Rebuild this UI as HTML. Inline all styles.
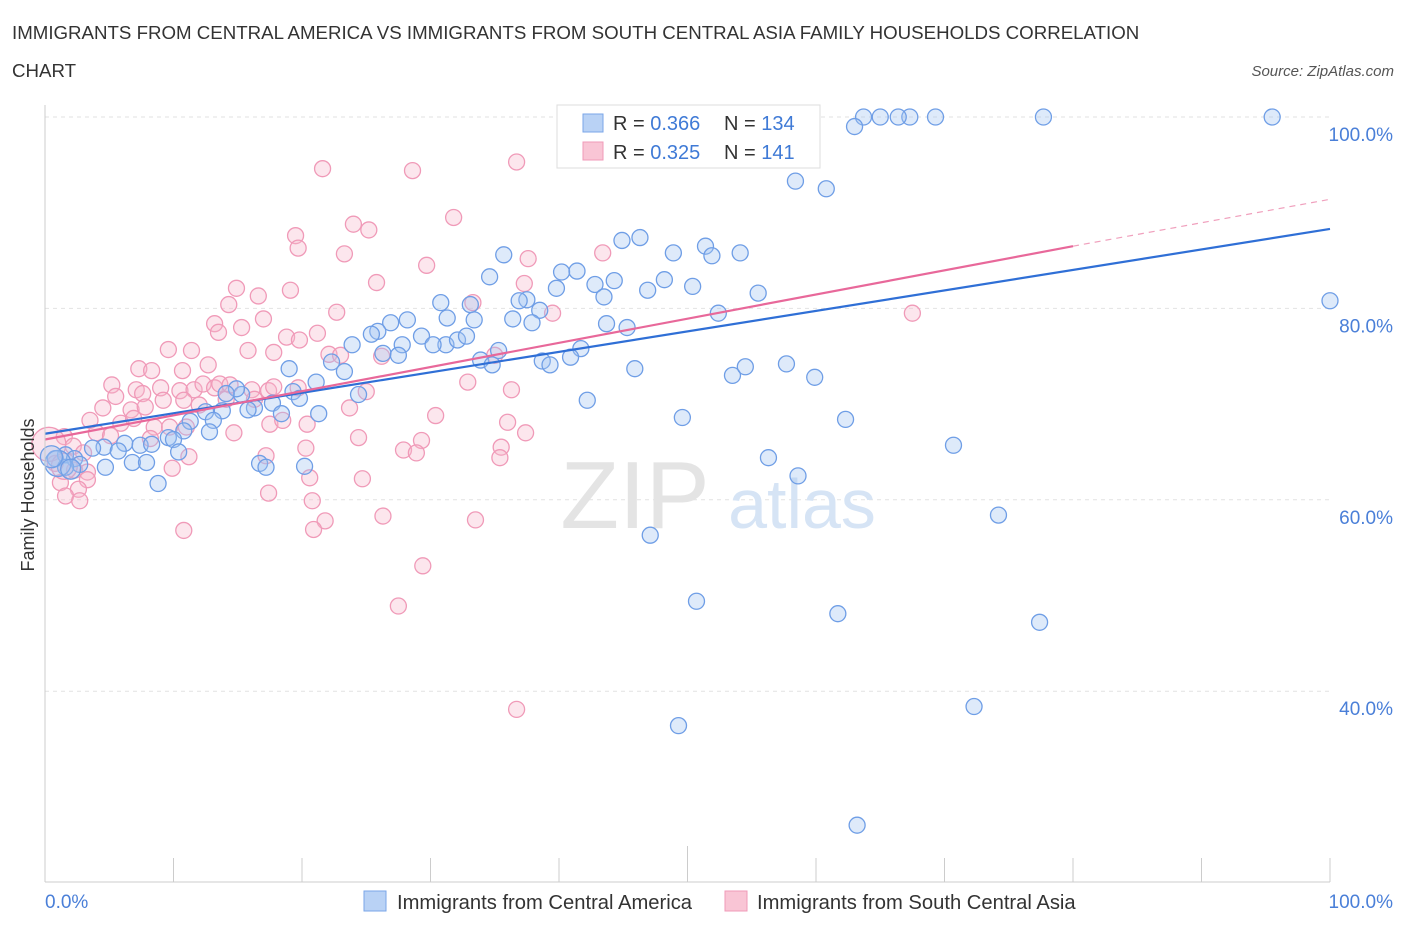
<!DOCTYPE html>
<html><head><meta charset="utf-8">
<style>
body{margin:0;background:#fff;font-family:"Liberation Sans",sans-serif;}
svg text{font-family:"Liberation Sans",sans-serif;}
</style></head>
<body>
<svg id="chart" width="1406" height="930" viewBox="0 0 1406 930" xmlns="http://www.w3.org/2000/svg">
<text x="12" y="39" font-size="18.7" fill="#333">IMMIGRANTS FROM CENTRAL AMERICA VS IMMIGRANTS FROM SOUTH CENTRAL ASIA FAMILY HOUSEHOLDS CORRELATION</text>
<text x="12" y="77" font-size="18.7" fill="#333">CHART</text>
<text x="1394" y="76" font-size="15" fill="#555" font-style="italic" text-anchor="end">Source: ZipAtlas.com</text>
<g id="grid"></g>
<g>
<text x="635" y="528" font-size="96" fill="#e4e4e4" font-family="Liberation Serif" text-anchor="middle">ZIP</text>
<text x="802" y="528" font-size="70" fill="#d6e4f5" text-anchor="middle">atlas</text>
</g>
<g id="pts"></g>
<g id="lines"></g>
<g id="axes"></g>
<text x="34" y="495" font-size="18" fill="#333" text-anchor="middle" transform="rotate(-90 34 495)">Family Households</text>
<g>
<rect x="557" y="105" width="263" height="63" fill="#fff" stroke="#ddd"/>
<rect x="583" y="114" width="20" height="18" fill="#b9d2f5" stroke="#7aa6e8"/>
<rect x="583" y="142" width="20" height="18" fill="#f9c5d5" stroke="#f09ab8"/>
<text x="613" y="130" font-size="20" fill="#333">R = <tspan fill="#3f7ad6">0.366</tspan></text>
<text x="724" y="130" font-size="20" fill="#333">N = <tspan fill="#3f7ad6">134</tspan></text>
<text x="613" y="159" font-size="20" fill="#333">R = <tspan fill="#3f7ad6">0.325</tspan></text>
<text x="724" y="159" font-size="20" fill="#333">N = <tspan fill="#3f7ad6">141</tspan></text>
</g>
<g>
<rect x="364" y="891" width="22" height="20" fill="#b9d2f5" stroke="#7aa6e8"/>
<text x="397" y="909" font-size="20.2" fill="#333">Immigrants from Central America</text>
<rect x="725" y="891" width="22" height="20" fill="#f9c5d5" stroke="#f09ab8"/>
<text x="757" y="909" font-size="20.2" fill="#333">Immigrants from South Central Asia</text>
</g>
</svg>
<script>
const blueX=[95.5,77.7,69.3,67.3,66.4,65.0,63.7,63.0,56.8,55.6,47.6,58.4,60.8,100,44.9,46.3,51.4,51.9,54.1,48.9,35.7,34.6,40.2,41.4,42.8,44.3,48.2,50.4,46.9,43.5,55.5,39.8,37.5,36.9,30.8,33.1,38.5,52.4,36.4,33.4,37.9,43.7,45.3,28.2,26.9,25.9,25.4,29.3,31.3,31.2,32.1,32.8,30.2,27.8,23.9,26.3,27.5,35.3,41.7,40.9,38.7,39.3,33.9,34.8,22.3,23.3,19.0,21.1,45.9,53.5,54.5,57.7,59.9,24.4,19.3,19.8,15.3,14.9,14.1,17.7,16.3,15.8,13.8,12.5,18.4,21.3,42.2,49.6,62.3,11.3,13.1,10.8,12.8,9.6,10.0,6.2,7.4,4.6,3.7,5.7,8.3,10.4,70.7,1.6,2.3,0.8,2.7,6.8,7.9,16.7,17.2,20.2,4.7,1.6,56.3,58.6,8.8,74.2,47.1,50.7,61.7,77.4,72.3,49.3,63.2,1.0,0.5,2.0];
const blueY=[100,100,100,100,100,100,100,99.0,100,100,95.7,93.3,92.5,80.8,87.1,87.4,86.5,85.5,85.8,85.8,85.6,83.3,83.8,83.9,82.5,82.9,83.0,82.3,81.9,81.2,81.6,82.1,80.9,80.8,80.6,80.4,79.8,79.5,78.9,78.8,78.5,78.4,78.0,78.8,78.5,77.6,77.3,77.1,79.0,76.2,76.7,77.1,76.2,76.2,76.2,75.3,75.1,75.6,75.8,74.9,74.5,74.1,74.6,74.1,74.4,73.4,73.7,72.3,73.7,73.0,73.9,74.2,72.8,71.0,71.3,70.6,71.0,71.6,71.1,70.1,69.6,69.4,69.3,69.2,69.0,69.0,70.4,68.6,68.4,68.2,68.3,67.2,67.1,66.5,66.3,65.9,65.7,65.5,65.4,65.1,65.8,65.0,65.7,64.7,64.3,64.3,63.7,63.9,63.9,63.8,63.4,63.5,63.4,63.4,64.4,62.5,61.7,58.4,56.3,49.4,48.1,47.2,38.4,36.4,26.0,63.8,64.5,63.2];
const blueR=[];for(let i=0;i<blueX.length;i++)blueR.push(8);blueR[blueX.length-3]=13;blueR[blueX.length-2]=11;blueR[blueX.length-1]=10;
const pinkX=[36.7,21.6,28.6,31.8,24.0,25.2,19.5,19.7,23.3,37.6,43.4,29.7,25.8,14.9,19.1,16.6,37.3,33.3,14.3,22.7,39.5,67.5,17.0,13.2,15.3,13.5,18.8,19.8,21.2,9.6,11.4,15.8,17.8,22.1,23.0,26.2,35.0,12.7,7.3,8.3,10.7,5.2,7.1,9.0,10.5,11.6,12.3,13.2,13.6,14.4,16.1,17.4,17.8,19.7,25.0,32.9,36.3,5.5,7.6,9.2,10.8,12.0,14.1,16.3,4.5,6.7,7.8,23.7,30.4,36.0,3.5,5.9,6.9,8.5,9.7,11.0,14.7,17.5,18.5,20.4,37.4,1.5,4.0,5.1,8.2,24.4,29.3,35.5,2.2,3.0,11.2,17.2,20.3,27.9,28.9,35.4,0.8,2.3,3.3,9.9,20.6,24.7,1.2,3.3,2.6,1.6,2.7,17.4,20.8,26.3,21.8,33.5,20.9,10.8,29.4,27.5,36.7,0.3,1.5];
const pinkY=[95.3,94.6,94.4,89.5,88.8,88.2,87.6,86.3,85.7,85.2,85.8,84.5,82.7,82.1,81.9,81.3,82.6,80.6,80.4,79.6,79.5,79.5,78.9,78.4,78.0,77.5,77.0,76.7,77.4,75.7,75.6,75.6,75.4,75.2,75.1,75.0,75.1,74.1,73.7,73.5,73.5,72.0,71.5,71.7,71.4,71.5,72.1,71.7,72.1,72.0,71.5,71.4,71.8,71.7,71.3,72.3,71.5,70.8,71.1,70.4,70.4,69.9,70.5,70.5,69.6,69.4,69.7,69.6,68.8,68.1,68.3,68.0,68.5,67.6,67.6,67.6,67.0,67.9,68.3,67.9,67.0,66.6,67.0,66.7,66.4,66.5,66.2,65.5,65.6,64.9,64.5,64.6,65.4,65.2,64.9,64.4,63.8,63.1,62.9,63.3,62.3,62.2,61.8,62.1,61.1,60.4,59.9,60.7,59.9,58.3,57.8,57.9,56.9,56.8,53.1,48.9,38.1,65.8,63.5];
const pinkR=[];for(let i=0;i<pinkX.length;i++)pinkR.push(8);pinkR[pinkX.length-2]=17;pinkR[pinkX.length-1]=13;
const yTicks=[40,60,80,100];
const xTickVals=[0,10,20,30,40,50,60,70,80,90,100];
const blueLine=[66.9,88.3];
const pinkLine=[66.3,86.5,91.4];
const NS="http://www.w3.org/2000/svg";
function sx(v){return 45+v*12.85;}
function sy(v){return 117+(100-v)*9.57;}
function mk(tag,attrs,parent){const e=document.createElementNS(NS,tag);for(const k in attrs)e.setAttribute(k,attrs[k]);parent.appendChild(e);return e;}
const grid=document.getElementById('grid'),axes=document.getElementById('axes'),pts=document.getElementById('pts'),lines=document.getElementById('lines');
yTicks.forEach(t=>{
 const l=mk('line',{x1:45,x2:1330,y1:sy(t),y2:sy(t),stroke:'#e2e2e2','stroke-dasharray':'4,4'},grid);
 
 
 const tx=mk('text',{x:1393,y:sy(t)+24,'font-size':19,fill:'#4a7fd8','text-anchor':'end'},axes);
 tx.textContent=t.toFixed(1)+'%';
 
 
});
mk('line',{x1:45,x2:45,y1:105,y2:882,stroke:'#ccc'},axes);
mk('line',{x1:45,x2:1330,y1:882,y2:882,stroke:'#ccc'},axes);
xTickVals.forEach(t=>{
 const l=mk('line',{x1:sx(t),x2:sx(t),y1:t===50?846:858,y2:882,stroke:'#ccc'},axes);
 
 
});
const xl0=mk('text',{x:45,y:908,'font-size':19,fill:'#4a7fd8'},axes);xl0.textContent='0.0%';


const xl1=mk('text',{x:1393,y:908,'font-size':19,fill:'#4a7fd8','text-anchor':'end'},axes);xl1.textContent='100.0%';


pinkX.forEach((x,i)=>{
 const c=mk('circle',{cx:sx(x),cy:sy(pinkY[i]),r:pinkR[i],fill:'rgba(246,182,204,0.35)',stroke:'#f09ab8','stroke-width':1.3},pts);
 
 
});
blueX.forEach((x,i)=>{
 const c=mk('circle',{cx:sx(x),cy:sy(blueY[i]),r:blueR[i],fill:'rgba(160,195,240,0.35)',stroke:'#6f9ee6','stroke-width':1.3},pts);
 
 
});
const bl=mk('line',{x1:sx(0),y1:sy(blueLine[0]),x2:sx(100),y2:sy(blueLine[1]),stroke:'#2f6fd6','stroke-width':2.2},lines);


const pl=mk('line',{x1:sx(0),y1:sy(pinkLine[0]),x2:sx(80),y2:sy(pinkLine[1]),stroke:'#e8689a','stroke-width':2.2},lines);


const pd=mk('line',{x1:sx(80),y1:sy(pinkLine[1]),x2:sx(100),y2:sy(pinkLine[2]),stroke:'#f0a0bd','stroke-width':1.2,'stroke-dasharray':'6,5'},lines);


</script>
</body></html>
